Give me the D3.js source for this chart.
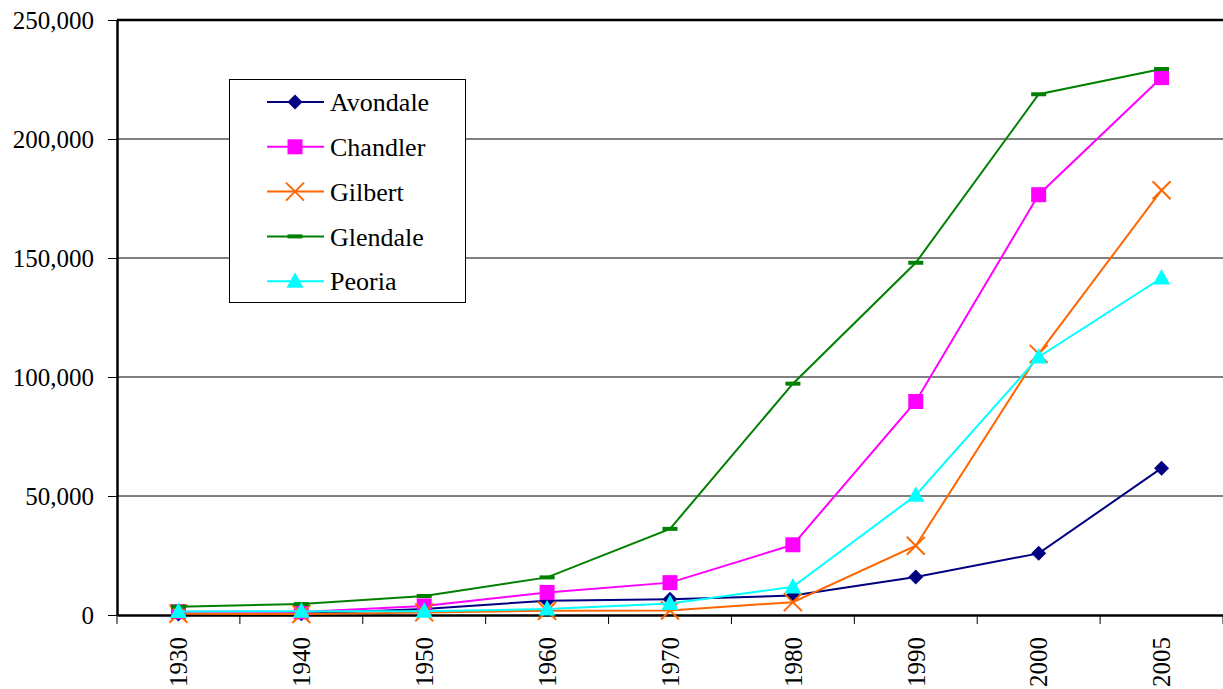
<!DOCTYPE html>
<html><head><meta charset="utf-8">
<script src="https://cdn.jsdelivr.net/npm/d3@7"></script>
<style>body{margin:0;background:#fff}svg{display:block}svg text{font-family:'Liberation Serif','Times New Roman',Tinos,'DejaVu Serif',serif !important;}</style>
</head><body><svg id="c" width="1223" height="689"></svg>
<script>
const years = ["1930","1940","1950","1960","1970","1980","1990","2000","2005"];
const avondale = [400, 500, 2500, 6000, 6600, 8200, 16000, 25900, 61700];
const chandler = [1400, 1300, 3800, 9500, 13600, 29500, 89700, 176600, 225800];
const gilbert  = [500, 400, 1100, 1800, 1900, 5400, 29100, 109700, 178500];
const glendale = [3500, 4600, 8000, 15800, 36200, 97200, 148000, 218800, 229400];
const peoria   = [1500, 1600, 1600, 2500, 4800, 11800, 50300, 108400, 141600];
const yTicks = [0, 50000, 100000, 150000, 200000, 250000];
const seriesNames = ["Avondale","Chandler","Gilbert","Glendale","Peoria"];
const seriesColors = ["#000080","#FF00FF","#FF6600","#008000","#00FFFF"];
const seriesData = [avondale, chandler, gilbert, glendale, peoria];

const FONT = "'Liberation Serif','Times New Roman',Tinos,'DejaVu Serif',serif";
const svg = d3.select("#c");
const L = 117, R = 1223, T = 20, B = 615;
const x = d3.scaleBand().domain(years).range([L, R]);
const y = d3.scaleLinear().domain([0, 250000]).range([B, T]);

// gridlines
svg.append("g").selectAll("line").data(yTicks.filter(d=>d>0 && d<250000)).join("line")
  .attr("x1", L).attr("x2", R).attr("y1", d=>y(d)).attr("y2", d=>y(d))
  .attr("stroke", "#000").attr("stroke-width", 1);
// top border
svg.append("line").attr("x1", L).attr("x2", R).attr("y1", y(250000)).attr("y2", y(250000))
  .attr("stroke", "#000").attr("stroke-width", 2.5);

// y axis
const yAx = svg.append("g").attr("transform", `translate(${L},0)`)
  .call(d3.axisLeft(y).tickValues(yTicks).tickFormat(d3.format(",")).tickSize(9).tickPadding(14).tickSizeOuter(0))
  .attr("font-family", FONT);
yAx.select(".domain").attr("stroke-width", 2.5);
yAx.selectAll(".tick line").attr("stroke-width", 1);
yAx.selectAll("text").attr("font-size", 25).attr("fill", "#000");

// x axis
const xAx = svg.append("g").attr("transform", `translate(0,${B})`)
  .call(d3.axisBottom(x).tickSize(0).tickSizeOuter(0))
  .attr("font-family", FONT);
xAx.select(".domain").attr("stroke-width", 2.5);
xAx.selectAll(".tick text")
  .attr("font-size", 25).attr("fill", "#000")
  .attr("transform", "rotate(-90)").attr("text-anchor", "end")
  .attr("x", -22).attr("y", 0).attr("dy", "0.35em");
// boundary ticks
const bounds = years.map(d => x(d)).concat([R]);
svg.append("g").selectAll("line").data(bounds).join("line")
  .attr("x1", d=>d).attr("x2", d=>d).attr("y1", B).attr("y2", B+9)
  .attr("stroke", "#000").attr("stroke-width", 1);

const cx = d => x(d) + x.bandwidth()/2;
const line = d3.line().x((v,i)=>cx(years[i])).y(v=>y(v));

function marker(g, idx, color) {
  if (idx === 0) {
    g.append("path").attr("d", "M0,-7.5L7.5,0L0,7.5L-7.5,0Z").attr("fill", color);
  } else if (idx === 1) {
    g.append("rect").attr("x",-7.5).attr("y",-7.5).attr("width",15).attr("height",15).attr("fill", color);
  } else if (idx === 2) {
    g.append("path").attr("d", "M-9,-9L9,9M-9,9L9,-9").attr("stroke", color).attr("stroke-width", 2).attr("fill","none");
  } else if (idx === 3) {
    g.append("rect").attr("x",-7.5).attr("y",-2).attr("width",15).attr("height",4).attr("fill", color);
  } else {
    g.append("path").attr("d", "M0,-9L8.5,6.5L-8.5,6.5Z").attr("fill", color);
  }
}

seriesData.forEach((data, si) => {
  const g = svg.append("g");
  g.append("path").datum(data).attr("d", line).attr("fill","none")
    .attr("stroke", seriesColors[si]).attr("stroke-width", 2);
  data.forEach((v, i) => {
    marker(g.append("g").attr("transform", `translate(${cx(years[i])},${y(v)})`), si, seriesColors[si]);
  });
});

// legend
const lg = svg.append("g").attr("font-family", FONT);
lg.append("rect").attr("x", 229.5).attr("y", 79.5).attr("width", 236).attr("height", 223)
  .attr("fill", "#fff").attr("stroke", "#000").attr("stroke-width", 1);
seriesNames.forEach((n, i) => {
  const yy = 102 + i * 44.8;
  lg.append("line").attr("x1", 267).attr("x2", 324).attr("y1", yy).attr("y2", yy)
    .attr("stroke", seriesColors[i]).attr("stroke-width", 2);
  marker(lg.append("g").attr("transform", `translate(295,${yy})`), i, seriesColors[i]);
  lg.append("text").attr("x", 330).attr("y", yy).attr("dy", "0.35em")
    .attr("font-size", 26).attr("fill", "#000").text(n);
});
</script></body></html>
